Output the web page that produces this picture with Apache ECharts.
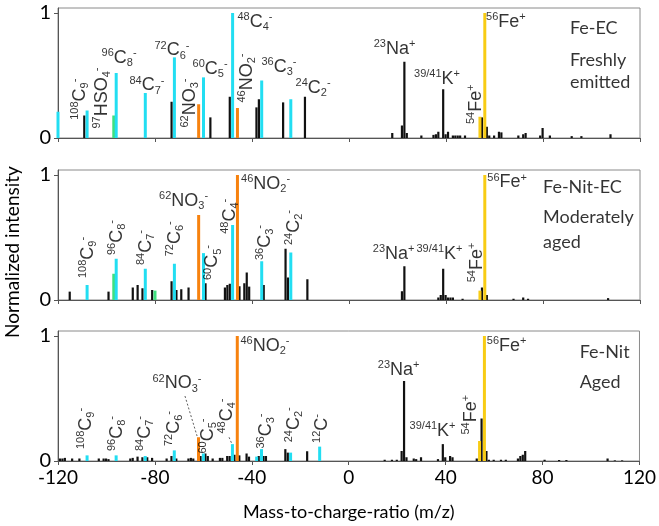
<!DOCTYPE html>
<html>
<head>
<meta charset="utf-8">
<title>Fe particle mass spectra</title>
<script src="https://cdn.jsdelivr.net/npm/echarts@6.0.0/dist/echarts.min.js"></script>
<style>
  html, body { margin: 0; padding: 0; background: #fff; }
  #chart { width: 659px; height: 526px; }
</style>
</head>
<body>
<div id="chart"></div>
<script>
// m/z axis
const mzMin = -120, mzMax = 120, mzStep = 40;
const yTicks = [0, 1];

/* ---- Fe-EC, freshly emitted : [m/z, normalized intensity] ---- */
const ecBlack = [[-109, 0.18], [-73, 0.29], [-57, 0.165], [-49, 0.33], [-38, 0.245], [-37, 0.31], [-27, 0.285], [-18, 0.33],
  [18, 0.04], [22, 0.1], [23, 0.61], [24, 0.04], [30, 0.02], [35, 0.025], [36, 0.03], [37, 0.05], [39, 0.39], [40, 0.03],
  [41, 0.05], [43, 0.02], [44, 0.02], [45, 0.02], [46, 0.02], [48, 0.02], [55, 0.165], [57, 0.09], [58, 0.02], [60, 0.02],
  [62, 0.05], [63, 0.045], [70, 0.02], [72, 0.03], [73, 0.04], [79, 0.02], [80, 0.08], [83, 0.02], [92, 0.015], [96, 0.015], [108, 0.03]];
const ecCyan = [[-120, 0.21], [-108, 0.22], [-96, 0.52], [-84, 0.36], [-72, 0.645], [-60, 0.485], [-48, 1.0], [-36, 0.46], [-24, 0.31]];
const ecOrange = [[-62, 0.27], [-46, 0.24]];
const ecGreen = [[-97, 0.18]];
const ecYellow = [[54, 0.17], [56, 1.0]];
const ecIons = [['108', 'C', '9', '-'], ['97', 'HSO', '4', '-'], ['96', 'C', '8', '-'], ['84', 'C', '7', '-'], ['72', 'C', '6', '-'],
  ['62', 'NO', '3', '-'], ['60', 'C', '5', '-'], ['48', 'C', '4', '-'], ['46', 'NO', '2', '-'], ['36', 'C', '3', '-'],
  ['24', 'C', '2', '-'], ['23', 'Na', '', '+'], ['39/41', 'K', '', '+'], ['54', 'Fe', '', '+'], ['56', 'Fe', '', '+']];
const ecIonAt = [[-110.9, 0.31, 90], [-102, 0.32, 90], [-94.8, 0.64, 0], [-83.3, 0.42, 0], [-73, 0.70, 0],
  [-65.6, 0.28, 90], [-57.3, 0.55, 0], [-38.8, 0.93, 0], [-42.1, 0.48, 90], [-28.9, 0.57, 0],
  [-14.8, 0.40, 0], [18.8, 0.71, 0], [36.3, 0.47, 0], [52.2, 0.27, 90], [64.7, 0.93, 0]];
const ecNotes = ['Fe-EC', 'Freshly', 'emitted'];
const ecNoteAt = [[91.1, 0.88], [91.1, 0.62], [91.1, 0.45]];

/* ---- Fe-Nit-EC, moderately aged ---- */
const neBlack = [[-115, 0.067], [-99, 0.067], [-89, 0.10], [-87, 0.12], [-85, 0.094], [-81, 0.08], [-73, 0.15], [-71, 0.08],
  [-69, 0.086], [-66, 0.10], [-59, 0.134], [-51, 0.10], [-50, 0.12], [-49, 0.13], [-45, 0.11], [-43, 0.134], [-42, 0.22],
  [-41, 0.107], [-35, 0.12], [-26, 0.41], [-25, 0.18], [-17, 0.166],
  [22, 0.07], [23, 0.27], [37, 0.02], [38, 0.04], [39, 0.25], [40, 0.04], [41, 0.02], [42, 0.02], [43, 0.02], [47, 0.01],
  [55, 0.10], [57, 0.04], [68, 0.01], [72, 0.02], [74, 0.01], [107, 0.015]];
const neCyan = [[-108, 0.12], [-96, 0.33], [-84, 0.25], [-72, 0.29], [-60, 0.375], [-48, 0.60], [-36, 0.31], [-24, 0.38]];
const neOrange = [[-62, 0.68], [-46, 1.0]];
const neGreen = [[-97, 0.21], [-80, 0.075]];
const neYellow = [[54, 0.075], [56, 1.0]];
const neIons = [['108', 'C', '9', '-'], ['96', 'C', '8', '-'], ['84', 'C', '7', '-'], ['72', 'C', '6', '-'], ['62', 'NO', '3', '-'],
  ['60', 'C', '5', '-'], ['48', 'C', '4', '-'], ['46', 'NO', '2', '-'], ['36', 'C', '3', '-'], ['24', 'C', '2', '-'],
  ['23', 'Na', '', '+'], ['39/41', 'K', '', '+'], ['54', 'Fe', '', '+'], ['56', 'Fe', '', '+']];
const neIonAt = [[-107.8, 0.34, 90], [-95.8, 0.50, 90], [-83.6, 0.42, 90], [-71.8, 0.49, 90], [-68.2, 0.79, 0],
  [-56.3, 0.30, 90], [-49.1, 0.67, 90], [-34.4, 0.93, 0], [-34.6, 0.46, 90], [-22.7, 0.58, 90],
  [18.4, 0.37, 0], [37.3, 0.37, 0], [52.6, 0.30, 90], [65.2, 0.94, 0]];
const neNotes = ['Fe-Nit-EC', 'Moderately', 'aged'];
const neNoteAt = [[80, 0.90], [80, 0.66], [80, 0.46]];

/* ---- Fe-Nit, aged ---- */
const nBlack = [[-119, 0.02], [-118, 0.02], [-117, 0.025], [-114, 0.02], [-111, 0.02], [-103, 0.02], [-101, 0.02], [-100, 0.02],
  [-99, 0.015], [-90, 0.02], [-89, 0.025], [-87, 0.035], [-85, 0.03], [-83, 0.03], [-81, 0.025], [-75, 0.02], [-73, 0.04],
  [-71, 0.02], [-66, 0.02], [-65, 0.025], [-64, 0.02], [-61, 0.04], [-59, 0.06], [-58, 0.04], [-56, 0.02], [-53, 0.025],
  [-52, 0.025], [-50, 0.04], [-49, 0.04], [-47, 0.05], [-45, 0.045], [-42, 0.06], [-41, 0.035], [-37, 0.04], [-35, 0.04],
  [-34, 0.04], [-26, 0.095], [-25, 0.067], [-17, 0.078],
  [15, 0.01], [18, 0.01], [20, 0.01], [22, 0.08], [23, 0.64], [24, 0.03], [27, 0.02], [28, 0.015], [30, 0.03], [37, 0.015],
  [39, 0.135], [40, 0.03], [42, 0.04], [43, 0.03], [53, 0.02], [55, 0.34], [57, 0.08], [58, 0.01], [60, 0.01], [63, 0.01],
  [65, 0.01], [70, 0.02], [71, 0.04], [72, 0.05], [73, 0.08], [81, 0.01], [87, 0.008], [90, 0.008], [107, 0.02], [110, 0.005], [113, 0.005]];
const nCyan = [[-108, 0.045], [-96, 0.045], [-84, 0.04], [-72, 0.085], [-60, 0.06], [-48, 0.135], [-38, 0.035], [-36, 0.095], [-24, 0.067], [-12, 0.115]];
const nOrange = [[-62, 0.19], [-46, 1.0]];
const nGreen = [];
const nYellow = [[54, 0.16], [56, 1.0]];
const nIons = [['108', 'C', '9', '-'], ['96', 'C', '8', '-'], ['84', 'C', '7', '-'], ['72', 'C', '6', '-'], ['62', 'NO', '3', '-'],
  ['60', 'C', '5', '-'], ['48', 'C', '4', '-'], ['46', 'NO', '2', '-'], ['36', 'C', '3', '-'], ['24', 'C', '2', '-'], ['12', 'C', '', '-'],
  ['23', 'Na', '', '+'], ['39/41', 'K', '', '+'], ['54', 'Fe', '', '+'], ['56', 'Fe', '', '+']];
const nIonAt = [[-108.5, 0.26, 90], [-95.8, 0.22, 90], [-84.1, 0.22, 90], [-72.2, 0.26, 90], [-70.9, 0.62, 0],
  [-58.1, 0.20, 90], [-50.1, 0.36, 90], [-34.6, 0.92, 0], [-34.2, 0.24, 90], [-22.7, 0.29, 90], [-11.1, 0.26, 90],
  [20.6, 0.73, 0], [34.6, 0.24, 0], [50.5, 0.37, 90], [65.2, 0.92, 0]];
const nNotes = ['Fe-Nit', 'Aged'];
const nNoteAt = [[95.3, 0.87], [95.3, 0.63]];
// dashed leader lines from labels to their peaks
const nLeaders = [[[-67.6, 0.52], [-62.6, 0.2]], [[-49.4, 0.19], [-48.3, 0.14]]];

const FONT_AX = 'Lato, "Open Sans", sans-serif';
const FONT_LB = '"Liberation Sans", Arial, sans-serif';
const INK = '#000';
const COLORS = { black: '#111', green: '#3fe07e', yellow: '#f8cc14', cyan: '#22def2', orange: '#f7820f' };
const WIDTHS = { black: 2.2, green: 3, yellow: 3, cyan: 3, orange: 3 };

const panels = [
  { black: ecBlack, green: ecGreen, yellow: ecYellow, cyan: ecCyan, orange: ecOrange, ions: ecIons, at: ecIonAt, notes: ecNotes, noteAt: ecNoteAt, top: 8 },
  { black: neBlack, green: neGreen, yellow: neYellow, cyan: neCyan, orange: neOrange, ions: neIons, at: neIonAt, notes: neNotes, noteAt: neNoteAt, top: 170 },
  { black: nBlack, green: nGreen, yellow: nYellow, cyan: nCyan, orange: nOrange, ions: nIons, at: nIonAt, notes: nNotes, noteAt: nNoteAt, top: 331 }
];

const rich = {
  m: { fontSize: 11, lineHeight: 11, verticalAlign: 'top', fontFamily: FONT_LB, color: INK },
  e: { fontSize: 18, lineHeight: 21, fontFamily: FONT_LB, color: INK },
  s: { fontSize: 11, lineHeight: 11, verticalAlign: 'bottom', fontFamily: FONT_LB, color: INK }
};

function ionText(p) {
  return '{m|' + p[0] + '}{e|' + p[1] + '}' + (p[2] ? '{s|' + p[2] + '}' : '') + '{m|' + p[3] + '}';
}

const grid = [], xAxis = [], yAxis = [], series = [];

panels.forEach(function (p, i) {
  grid.push({ left: 58, right: 19, top: p.top, height: 130, show: true, borderColor: '#8a8a8a', borderWidth: 1 });
  xAxis.push({
    gridIndex: i, type: 'value', min: mzMin, max: mzMax, interval: mzStep,
    axisLine: { onZero: false, lineStyle: { color: '#555', width: 1 } },
    axisTick: { show: true, length: 4, lineStyle: { color: '#555' } },
    splitLine: { show: false },
    axisLabel: { show: i === 2, fontSize: 19, fontFamily: FONT_AX, color: INK, margin: 7 },
    name: i === 2 ? 'Mass-to-charge-ratio (m/z)' : '',
    nameLocation: 'middle', nameGap: 42,
    nameTextStyle: { fontSize: 18, fontFamily: FONT_AX, color: INK }
  });
  yAxis.push({
    gridIndex: i, type: 'value', min: 0, max: 1.04,
    axisLine: { show: true, onZero: false, lineStyle: { color: '#555', width: 1 } },
    axisTick: { show: true, length: 4, customValues: yTicks, lineStyle: { color: '#555' } },
    axisLabel: { fontSize: 20, fontFamily: FONT_AX, color: INK, margin: 7, customValues: yTicks },
    splitLine: { show: false }
  });

  ['black', 'green', 'yellow', 'cyan', 'orange'].forEach(function (c) {
    series.push({
      type: 'bar', xAxisIndex: i, yAxisIndex: i, data: p[c],
      barWidth: WIDTHS[c], barGap: '-100%', itemStyle: { color: COLORS[c] },
      silent: true, animation: false
    });
  });

  series.push({
    type: 'scatter', xAxisIndex: i, yAxisIndex: i, symbolSize: 1, silent: true, animation: false,
    itemStyle: { color: 'rgba(0,0,0,0)' },
    label: { show: true, position: 'inside', rich: rich, color: INK },
    data: p.ions.map(function (ion, k) {
      const a = p.at[k];
      return { value: [a[0], a[1]], label: { formatter: ionText(ion), rotate: a[2] } };
    })
  });

  series.push({
    type: 'scatter', xAxisIndex: i, yAxisIndex: i, symbolSize: 1, silent: true, animation: false,
    itemStyle: { color: 'rgba(0,0,0,0)' },
    label: { show: true, position: 'inside', align: 'left', fontSize: 18, fontFamily: FONT_AX, color: INK },
    data: p.notes.map(function (t, k) {
      return { value: p.noteAt[k], label: { formatter: t } };
    })
  });
});

nLeaders.forEach(function (seg) {
  series.push({
    type: 'line', xAxisIndex: 2, yAxisIndex: 2, data: seg, symbol: 'none', silent: true, animation: false,
    lineStyle: { color: '#333', width: 0.8, type: [2, 2] }
  });
});

const chart = echarts.init(document.getElementById('chart'));
chart.setOption({
  animation: false,
  backgroundColor: '#fff',
  grid: grid,
  xAxis: xAxis,
  yAxis: yAxis,
  series: series,
  graphic: [{
    type: 'text', x: 13, y: 252, rotation: Math.PI / 2,
    style: { text: 'Normalized intensity', font: '19px Lato, "Open Sans", sans-serif', fill: INK,
      align: 'center', verticalAlign: 'middle', textAlign: 'center', textVerticalAlign: 'middle' }
  }]
});
</script>
</body>
</html>
